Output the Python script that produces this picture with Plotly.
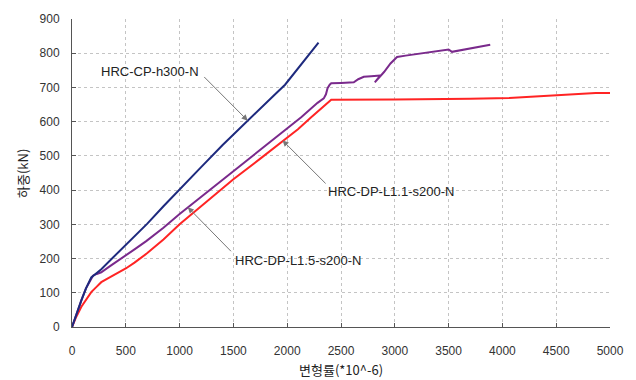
import plotly.graph_objects as go

# Load-strain curves (strain in 1e-6, load in kN)
cp_strain = [0, 40, 87, 130, 179, 230, 272, 365, 535, 700, 850, 1000, 1200, 1400,
             1630, 1800, 1900, 1980, 2050, 2150, 2230, 2291]
cp_load = [0, 38, 78, 113, 145, 158, 169, 198, 251, 302, 353, 403, 467, 532,
           603, 656, 684, 708, 735, 775, 805, 831]

dp15_strain = [0, 40, 87, 130, 179, 195, 230, 272, 350, 427, 581, 690, 850, 1000,
               1250, 1500, 1750, 1994, 2130, 2282, 2340, 2360, 2375, 2395, 2409,
               2500, 2619, 2660, 2712, 2780, 2866, 2814, 2900, 2960, 3021, 3100,
               3191, 3300, 3439, 3500, 3531, 3600, 3748, 3887]
dp15_load = [0, 38, 78, 113, 143, 150, 155, 160, 177, 193, 227, 251, 290, 330,
             393, 455, 520, 580, 613, 655, 668, 680, 698, 708, 712,
             713, 715, 724, 731, 733, 735, 715, 745, 770, 789, 793,
             797, 802, 808, 811, 804, 808, 816, 825]

dp11_strain = [0, 40, 87, 130, 179, 230, 272, 350, 427, 500, 581, 700, 850, 1000,
               1250, 1500, 1750, 1960, 2100, 2223, 2340, 2375, 2409, 3000, 3614,
               3700, 4063, 4300, 4496, 4700, 4867, 5000]
dp11_load = [0, 30, 59, 80, 102, 118, 131, 145, 158, 171, 188, 216, 256, 300,
             366, 432, 492, 545, 578, 613, 645, 657, 664, 665, 666,
             667, 669, 673, 676, 680, 684, 684]

x_ticks = [0, 500, 1000, 1500, 2000, 2500, 3000, 3500, 4000, 4500, 5000]
y_ticks = [0, 100, 200, 300, 400, 500, 600, 700, 800, 900]

fig = go.Figure()
fig.add_trace(go.Scatter(x=dp11_strain, y=dp11_load, mode="lines",
                         line=dict(color="#ff2424", width=2), name="HRC-DP-L1.1-s200-N"))
fig.add_trace(go.Scatter(x=dp15_strain, y=dp15_load, mode="lines",
                         line=dict(color="#7a2a8c", width=2), name="HRC-DP-L1.5-s200-N"))
fig.add_trace(go.Scatter(x=cp_strain, y=cp_load, mode="lines",
                         line=dict(color="#1e2a7e", width=2), name="HRC-CP-h300-N"))

label_font = dict(family="Liberation Sans, Arial, sans-serif", size=13, color="#222")

# specimen labels
labels = [
    ("HRC-CP-h300-N", 724, 747),
    ("HRC-DP-L1.1-s200-N", 2968, 395),
    ("HRC-DP-L1.5-s200-N", 2096, 193),
]
# leader arrows: (tail x, tail y, head x, head y)
arrows = [
    (1215, 735, 1633, 603),
    (2371, 415, 1957, 545),
    (1491, 217, 1076, 350),
]

annotations = []
for text, lx, ly in labels:
    annotations.append(dict(x=lx, y=ly, xref="x", yref="y", text=text,
                            showarrow=False, font=label_font,
                            xanchor="center", yanchor="middle"))
for tx, ty, hx, hy in arrows:
    annotations.append(dict(x=hx, y=hy, ax=tx, ay=ty, xref="x", yref="y",
                            axref="x", ayref="y", text="", showarrow=True,
                            arrowhead=2, arrowsize=1.2, arrowwidth=1,
                            arrowcolor="#777777", standoff=0, startstandoff=0))

title_font = dict(family="Noto Sans CJK KR, sans-serif", size=13, color="#222")
annotations.append(dict(x=-0.093, y=0.5, xref="paper", yref="paper", text="하중(kN)",
                        textangle=-90, showarrow=False, font=title_font,
                        xanchor="center", yanchor="middle"))
annotations.append(dict(x=0.5, y=-0.137, xref="paper", yref="paper", text="변형률(*10^-6)",
                        showarrow=False, font=title_font,
                        xanchor="center", yanchor="middle"))

tick_font = dict(family="Liberation Sans, Arial, sans-serif", size=12, color="#333")
axis_common = dict(showline=True, linecolor="#555", linewidth=1,
                   ticks="inside", ticklen=4, tickcolor="#555",
                   showgrid=True, gridcolor="#c4c4c4", gridwidth=1, griddash="3px,3px",
                   zeroline=False, tickfont=tick_font)

fig.update_layout(
    width=636, height=380,
    margin=dict(l=72, r=25, t=15, b=53),
    paper_bgcolor="white", plot_bgcolor="white",
    showlegend=False,
    annotations=annotations,
    xaxis=dict(range=[0, 5000], tickvals=x_ticks, ticklabelstandoff=13, **axis_common),
    yaxis=dict(range=[0, 900], tickvals=y_ticks, ticklabelstandoff=9, **axis_common),
)

fig.write_html("out.html")
